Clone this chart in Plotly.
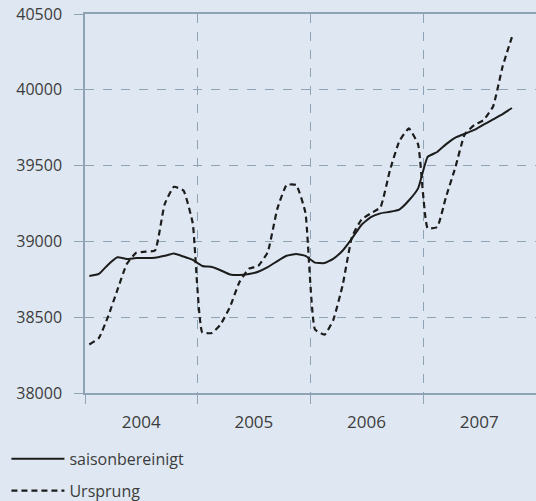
import plotly.graph_objects as go

# Monatswerte Januar 2004 bis Oktober 2007 (Monatsmitte)
monate = [f"{j}-{m:02d}-15" for j in range(2004, 2008) for m in range(1, 13)][:46]

saisonbereinigt = [
    38772, 38785, 38845, 38895, 38884, 38890, 38890, 38892, 38905, 38920, 38900, 38878,
    38838, 38831, 38810, 38782, 38778, 38785, 38800, 38830, 38870, 38905, 38917, 38905,
    38860, 38857, 38885, 38940, 39020, 39110, 39160, 39185, 39195, 39210, 39270, 39350,
    39557, 39590, 39640, 39685, 39710, 39735, 39770, 39805, 39840, 39880,
]

ursprung = [
    38320, 38363, 38500, 38680, 38850, 38925, 38932, 38940, 39245, 39360, 39335, 39120,
    38400, 38396, 38452, 38570, 38730, 38820, 38838, 38930, 39215, 39372, 39372, 39190,
    38420, 38385, 38480, 38715, 39030, 39145, 39185, 39225, 39470, 39660, 39745, 39640,
    39088, 39095, 39290, 39490, 39705, 39768, 39800, 39890, 40155, 40348,
]

jahre = ["2004", "2005", "2006", "2007"]
jahresgrenzen = [f"{j}-01-01" for j in range(2004, 2009)]
y_ticks = [38000, 38500, 39000, 39500, 40000, 40500]

bg = "#dfe8f2"
grid = "#8ea4b4"
text = "#3c3c3c"

fig = go.Figure()

fig.add_trace(
    go.Scatter(
        x=monate,
        y=saisonbereinigt,
        mode="lines",
        name="saisonbereinigt",
        legendgroup="a",
        line=dict(color="#1c1c1c", width=2, shape="spline", smoothing=0.4),
    )
)

fig.add_trace(
    go.Scatter(
        x=monate,
        y=ursprung,
        mode="lines",
        name="Ursprung",
        legendgroup="b",
        line=dict(color="#1c1c1c", width=2.2, dash="6px,4px", shape="spline", smoothing=0.4),
    )
)

fig.update_layout(
    width=536,
    height=501,
    margin=dict(l=85, r=0, t=14, b=108, autoexpand=False),
    paper_bgcolor=bg,
    plot_bgcolor=bg,
    font=dict(family="Open Sans", size=16, color=text),
    showlegend=True,
    legend=dict(
        xref="container",
        yref="container",
        x=0.012,
        y=0.118,
        xanchor="left",
        yanchor="top",
        bgcolor="rgba(0,0,0,0)",
        font=dict(size=16, color=text),
        traceorder="grouped",
        tracegroupgap=8,
        itemwidth=53,
    ),
)

fig.update_xaxes(
    type="date",
    range=["2004-01-01", "2008-01-01"],
    tickmode="array",
    tickvals=[f"{j}-07-01" for j in jahre],
    ticktext=jahre,
    tickfont=dict(size=17),
    ticks="outside",
    ticklen=9,
    tickcolor="rgba(0,0,0,0)",
    ticklabelstandoff=4,
    showgrid=False,
    showline=True,
    linecolor=grid,
    linewidth=1.5,
    mirror=True,
    zeroline=False,
    minor=dict(
        tickmode="array",
        tickvals=jahresgrenzen,
        ticks="outside",
        ticklen=9,
        tickcolor=grid,
        tickwidth=1.2,
        showgrid=True,
        gridcolor=grid,
        griddash="dash",
        gridwidth=1,
    ),
)

fig.update_yaxes(
    range=[38000, 40500],
    tickmode="array",
    tickvals=y_ticks,
    ticktext=[str(v) for v in y_ticks],
    ticks="outside",
    ticklen=9,
    tickcolor=grid,
    tickwidth=1.2,
    ticklabelstandoff=9,
    showgrid=True,
    gridcolor=grid,
    griddash="dash",
    gridwidth=1,
    showline=True,
    linecolor=grid,
    linewidth=1.5,
    zeroline=False,
)

# Seitenrand des Browsers entfernen, damit die Grafik bei (0, 0) beginnt
fig.write_html(
    "out.html",
    config={"displayModeBar": False},
    post_script=f"document.body.style.margin='0';document.body.style.background='{bg}';",
)
